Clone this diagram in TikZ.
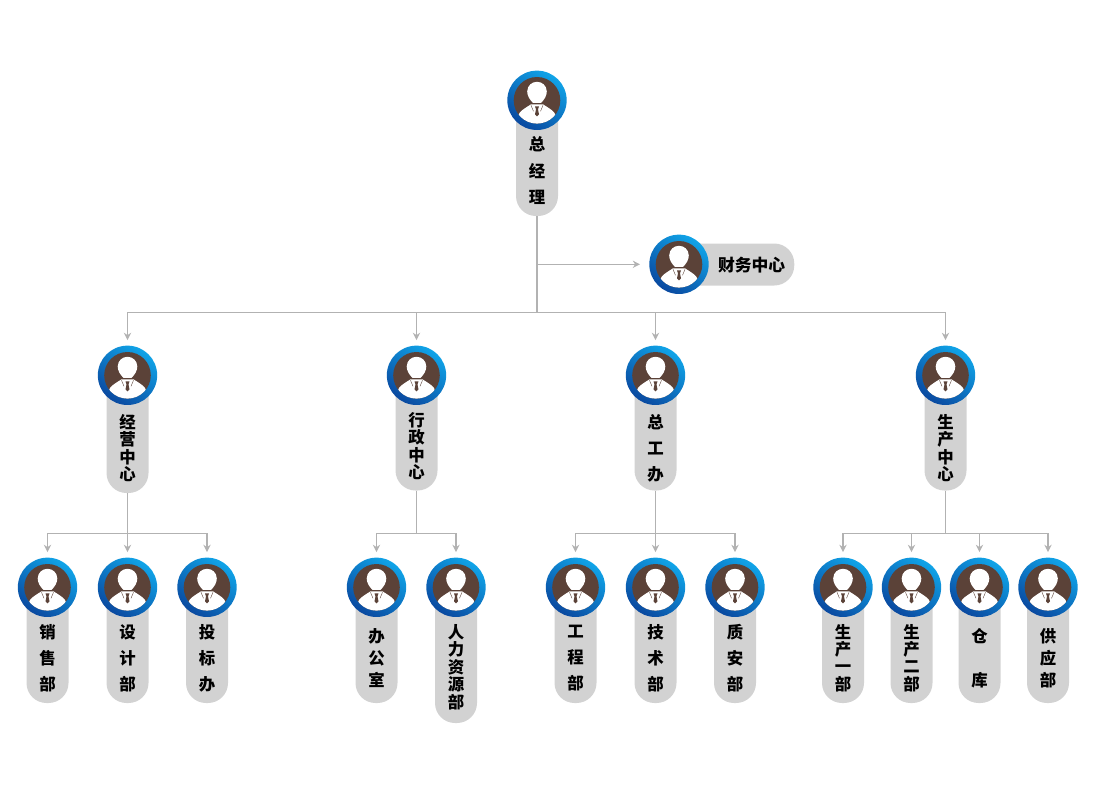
\documentclass[tikz,border=0pt]{standalone}
\usepackage{fontspec}
\setmainfont{Noto Sans CJK SC}
\usetikzlibrary{arrows.meta}
\definecolor{ringtop}{HTML}{10A4E8}
\definecolor{ringmid}{HTML}{0C72C6}
\definecolor{ringlow}{HTML}{0A49A0}
\definecolor{facebg}{HTML}{5B4238}
\definecolor{pillgray}{HTML}{D2D2D2}
\definecolor{linegray}{HTML}{B2B2B2}
\tikzset{
    pill/.style = {fill=pillgray, rounded corners=15pt, inner sep=0pt, minimum width=31.5pt, align=center},
    ring/.style = {circle, inner sep=0pt, minimum size=44.5pt, top color=ringtop, middle color=ringmid, bottom color=ringlow, shading angle=-35},
    trunk/.style = {draw=linegray, line width=1.1pt},
    feed/.style = {trunk, -{Stealth[length=5.5pt,width=5.5pt]}, shorten >=4pt},
    face/.pic = {
        \fill[facebg] (0,0) circle (23.3);
        \begin{scope}
            \clip (0,0) circle (23.3);
            \fill[white] (-19,24) -- (-18.5,15) .. controls (-18,11) and (-12,8) .. (-6,4)
                -- (6,4) .. controls (12,8) and (18,11) .. (18.5,15) -- (19,24) -- cycle;
        \end{scope}
        \fill[white] (-4,2.5) .. controls (-7,0) and (-10,-5) .. (-9.8,-9)
            .. controls (-9.5,-15) and (-5,-18.5) .. (0,-18.5)
            .. controls (5,-18.5) and (9.5,-15) .. (9.8,-9)
            .. controls (10,-5) and (7,0) .. (4,2.5) -- cycle;
        \fill[facebg] (-2,6) -- (2,6) -- (1,9) -- (2,14) -- (0,16) -- (-2,14) -- (-1,9) -- cycle;
        \draw[facebg, line width=0.3pt] (-6,5) -- (-3.5,11) (6,5) -- (3.5,11);
    }
}
% id, x, y of the head, y of the text, bottom of the pill, line pitch, text
\newcommand{\staffpill}[7]{
    \node[pill, minimum height={(#5-#3)*0.75pt}] (p#1) at (#2,{(#3+#5)/2}) {};
    \node[ring] (a#1) at (#2,#3) {};
    \pic at (a#1) {face};
    \node[align=center, inner sep=0pt, font=\bfseries\fontsize{12.3}{#6}\selectfont] (t#1) at (#2,#4) {#7};
}
\begin{document}
\begin{tikzpicture}[x=0.75pt, y=-0.75pt]
    \useasboundingbox (0,0) rectangle (1097,794);

    \staffpill{zjl}{537}{100.3}{170.5}{216}{19.9pt}{总\\经\\理}

    \node[pill, anchor=west, minimum width=86.25pt, minimum height=31.5pt] (pcw) at (679,264.5) {};
    \node[ring] (acw) at (679,264.3) {};
    \pic at (acw) {face};
    \node[inner sep=0pt, anchor=east, font=\bfseries\fontsize{12.6}{14}\selectfont] (tcw) at (785.5,265) {财务中心};

    \staffpill{jy}{127.5}{375.3}{448}{493}{13.1pt}{经\\营\\中\\心}
    \staffpill{xz}{416.5}{375.3}{446}{490.5}{13.1pt}{行\\政\\中\\心}
    \staffpill{zg}{655.5}{375.3}{448}{490.5}{19.5pt}{总\\工\\办}
    \staffpill{sc}{945.5}{375.3}{448}{490.5}{13.1pt}{生\\产\\中\\心}

    \staffpill{xs}{47.5}{587.3}{658}{703}{19.5pt}{销\\售\\部}
    \staffpill{sj}{127.5}{587.3}{658}{703}{19.5pt}{设\\计\\部}
    \staffpill{tb}{207}{587.3}{658}{703}{19.5pt}{投\\标\\办}

    \staffpill{bg}{376.5}{587.3}{658}{703}{16.5pt}{办\\公\\室}
    \staffpill{rl}{456}{587.3}{667}{723}{13.1pt}{人\\力\\资\\源\\部}

    \staffpill{gc}{575.5}{587.3}{658}{703}{19.5pt}{工\\程\\部}
    \staffpill{js}{655.5}{587.3}{658}{703}{19.5pt}{技\\术\\部}
    \staffpill{za}{735}{587.3}{658}{703}{19.5pt}{质\\安\\部}

    \staffpill{sa}{843}{587.3}{658}{703}{13.1pt}{生\\产\\一\\部}
    \staffpill{sb}{911.5}{587.3}{658}{703}{13.1pt}{生\\产\\二\\部}
    \staffpill{ck}{979.5}{587.3}{658}{703}{33pt}{仓\\库}
    \staffpill{gy}{1048}{587.3}{658}{703}{16.5pt}{供\\应\\部}

    \coordinate (bzjl) at (537,312.5);
    \coordinate (bjy) at (127.5,533.5);
    \coordinate (bxz) at (416.5,533.5);
    \coordinate (bzg) at (655.5,533.5);
    \coordinate (bsc) at (945.5,533.5);

    \draw[trunk] (pzjl.south) -- (bzjl);
    \draw[feed, shorten >=6.75pt] (pzjl.south |- acw) -- (acw.west);
    \draw[feed] (bzjl) -| (ajy.north);
    \draw[feed] (bzjl) -| (axz.north);
    \draw[feed] (bzjl) -| (azg.north);
    \draw[feed] (bzjl) -| (asc.north);

    \draw[trunk] (pjy.south) -- (bjy);
    \draw[feed] (bjy) -| (axs.north);
    \draw[feed] (bjy) -- (asj.north);
    \draw[feed] (bjy) -| (atb.north);

    \draw[trunk] (pxz.south) -- (bxz);
    \draw[feed] (bxz) -| (abg.north);
    \draw[feed] (bxz) -| (arl.north);

    \draw[trunk] (pzg.south) -- (bzg);
    \draw[feed] (bzg) -| (agc.north);
    \draw[feed] (bzg) -- (ajs.north);
    \draw[feed] (bzg) -| (aza.north);

    \draw[trunk] (psc.south) -- (bsc);
    \draw[feed] (bsc) -| (asa.north);
    \draw[feed] (bsc) -| (asb.north);
    \draw[feed] (bsc) -| (ack.north);
    \draw[feed] (bsc) -| (agy.north);
\end{tikzpicture}
\end{document}
